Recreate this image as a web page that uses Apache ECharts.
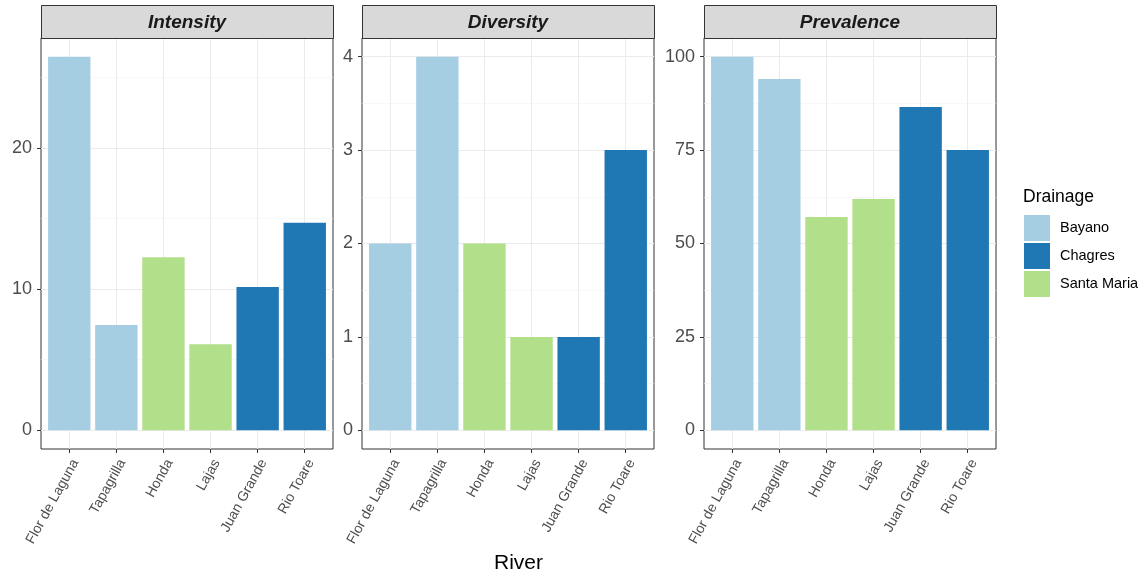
<!DOCTYPE html>
<html>
<head>
<meta charset="utf-8">
<title>River parasites by drainage</title>
<script src="https://cdn.jsdelivr.net/npm/echarts@6/dist/echarts.min.js"></script>
<style>
  html, body { margin: 0; padding: 0; background: #ffffff; }
  #chart { width: 1147px; height: 575px; }
</style>
</head>
<body>
<div id="chart"></div>
<script>
// Rivers along the x axis and the drainage each belongs to
const rivers = ['Flor de Laguna', 'Tapagrilla', 'Honda', 'Lajas', 'Juan Grande', 'Rio Toare'];
const riverDrainage = ['Bayano', 'Bayano', 'Santa Maria', 'Santa Maria', 'Chagres', 'Chagres'];
const drainages = ['Bayano', 'Chagres', 'Santa Maria'];

// Measured values per river
const intensity = [26.45, 7.45, 12.25, 6.1, 10.15, 14.7];
const diversity = [2, 4, 2, 1, 1, 3];
const prevalence = [100, 94, 57.1, 61.9, 86.5, 75];

// Tick labels (major) and minor grid positions of each facet
const intensityTicks = [0, 10, 20];
const intensityMinor = [5, 15, 25];
const diversityTicks = [0, 1, 2, 3, 4];
const diversityMinor = [0.5, 1.5, 2.5, 3.5];
const prevalenceTicks = [0, 25, 50, 75, 100];
const prevalenceMinor = [12.5, 37.5, 62.5, 87.5];

const palette = { 'Bayano': '#a6cee3', 'Chagres': '#1f78b4', 'Santa Maria': '#b2df8a' };

const facets = [
  { title: 'Intensity',  values: intensity,  ticks: intensityTicks,  minor: intensityMinor,  left: 41 },
  { title: 'Diversity',  values: diversity,  ticks: diversityTicks,  minor: diversityMinor,  left: 362 },
  { title: 'Prevalence', values: prevalence, ticks: prevalenceTicks, minor: prevalenceMinor, left: 704 }
];

const panelTop = 38, panelW = 292, panelH = 411, stripTop = 5, stripH = 33;
const riverPos = rivers.map((_, i) => i + 1);

const grids = [], xAxes = [], yAxes = [], series = [], graphics = [];

facets.forEach((f, p) => {
  const top = Math.max(...f.values);
  const pad = top * 0.05;
  grids.push({
    left: f.left, top: panelTop, width: panelW, height: panelH,
    show: true, backgroundColor: '#ffffff', borderColor: '#333333', borderWidth: 1
  });
  xAxes.push({
    type: 'value', gridIndex: p, min: 0.4, max: 6.6, position: 'bottom',
    axisLine: { show: false, onZero: false },
    axisTick: { show: true, length: 4, customValues: riverPos, lineStyle: { color: '#333333', width: 1 } },
    axisLabel: {
      show: true, customValues: riverPos, rotate: 61, margin: 8,
      align: 'right', verticalAlign: 'top',
      fontFamily: 'Liberation Sans, Arial, sans-serif', fontSize: 14, color: '#4d4d4d',
      formatter: v => rivers[Math.round(v) - 1]
    },
    splitLine: { show: true, lineStyle: { color: '#ebebeb', width: 1 } }
  });
  // major y axis with labels
  yAxes.push({
    type: 'value', gridIndex: p, min: -pad, max: top + pad, position: 'left',
    axisLine: { show: false, onZero: false },
    axisTick: { show: true, length: 4, customValues: f.ticks, lineStyle: { color: '#333333', width: 1 } },
    axisLabel: {
      show: true, customValues: f.ticks, margin: 9,
      fontFamily: 'Liberation Sans, Arial, sans-serif', fontSize: 18, color: '#4d4d4d'
    },
    splitLine: { show: true, lineStyle: { color: '#ebebeb', width: 1 } },
    z: 1
  });
  // minor horizontal grid lines
  yAxes.push({
    type: 'value', gridIndex: p, min: -pad, max: top + pad, position: 'left',
    axisLine: { show: false, onZero: false },
    axisTick: { show: false, customValues: f.minor },
    axisLabel: { show: false },
    splitLine: { show: true, lineStyle: { color: '#f3f3f3', width: 0.6 } },
    z: 0
  });
  drainages.forEach(d => {
    const data = [];
    f.values.forEach((v, i) => { if (riverDrainage[i] === d) data.push([i + 1, v]); });
    series.push({
      name: d, type: 'bar', xAxisIndex: p, yAxisIndex: p * 2,
      data: data, barWidth: '90%', barGap: '-100%',
      itemStyle: { color: palette[d] },
      emphasis: { disabled: true }
    });
  });
  // facet strip
  graphics.push({
    type: 'rect', left: f.left, top: stripTop, z: 10,
    shape: { width: panelW, height: stripH },
    style: { fill: '#d9d9d9', stroke: '#333333', lineWidth: 1 }
  });
  graphics.push({
    type: 'text', x: f.left + panelW / 2, y: stripTop + stripH / 2 + 1, z: 11,
    style: {
      text: f.title, fill: '#1a1a1a', fontSize: 19, fontWeight: 'bold', fontStyle: 'italic',
      fontFamily: 'Liberation Sans, Arial, sans-serif', align: 'center', verticalAlign: 'middle'
    }
  });
});

// x axis title
graphics.push({
  type: 'text', x: 518.5, y: 563, z: 11,
  style: {
    text: 'River', fill: '#000000', fontSize: 21,
    fontFamily: 'Liberation Sans, Arial, sans-serif', align: 'center', verticalAlign: 'middle'
  }
});
// legend title
graphics.push({
  type: 'text', x: 1023, y: 197, z: 11,
  style: {
    text: 'Drainage', fill: '#000000', fontSize: 17.5,
    fontFamily: 'Liberation Sans, Arial, sans-serif', align: 'left', verticalAlign: 'middle'
  }
});

const chart = echarts.init(document.getElementById('chart'), null, { renderer: 'canvas' });
chart.setOption({
  animation: false,
  backgroundColor: '#ffffff',
  grid: grids,
  xAxis: xAxes,
  yAxis: yAxes,
  series: series,
  legend: {
    data: drainages, orient: 'vertical', left: 1024, top: 215,
    itemWidth: 26, itemHeight: 26, itemGap: 2, icon: 'rect', selectedMode: false,
    padding: 0,
    textStyle: {
      fontFamily: 'Liberation Sans, Arial, sans-serif', fontSize: 14.5, color: '#000000',
      padding: [0, 0, 0, 5]
    }
  },
  graphic: graphics
});
</script>
</body>
</html>
